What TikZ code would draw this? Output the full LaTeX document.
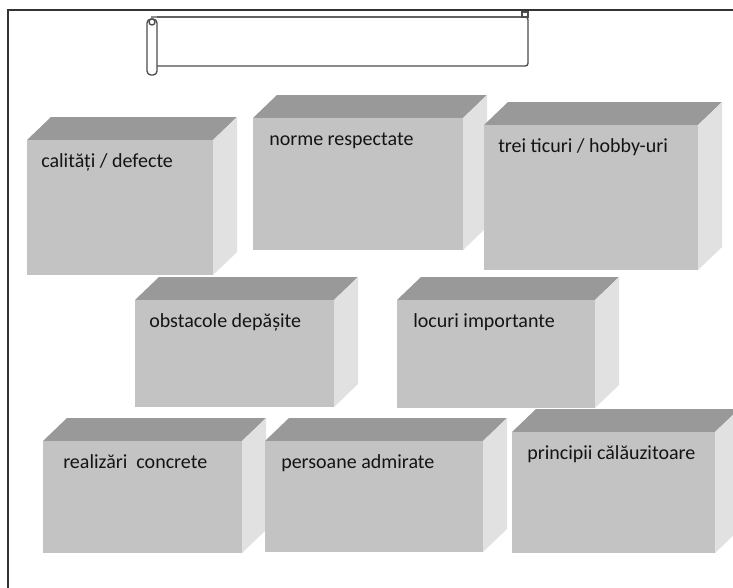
\documentclass[tikz,border=0pt]{standalone}
\usepackage{fontspec}
\setmainfont{Carlito}
\definecolor{frontgray}{HTML}{C3C3C3}
\definecolor{topgray}{HTML}{999999}
\definecolor{sidegray}{HTML}{E1E1E1}

\begin{document}
\begin{tikzpicture}[x=0.75pt, y=-0.75pt,
        front/.style={fill=frontgray},
        topface/.style={fill=topgray},
        sideface/.style={fill=sidegray},
        lbl/.style={anchor=base west, inner sep=0pt, text=black!92,
                    font=\fontsize{15}{18}\selectfont},
        scrollline/.style={draw=black!70, line width=1pt}]
        \clip (0,0) rectangle (733,587);
        \fill[white] (0,0) rectangle (733,587);

        % page frame
        \draw[line width=1.1pt, black!80] (8,600) -- (8,10) -- (745,10);

        % title scroll
        \draw[scrollline, black!45, line width=1.5pt] (151,17) -- (524,17);
        \draw[scrollline, rounded corners=2pt] (157,17) -- (528,17) -- (528,66) -- (157,66);
        \draw[scrollline, fill=white, rounded corners=3pt] (147,19) rectangle (157,75);
        \draw[scrollline] (152,22) circle[radius=3];
        \draw[scrollline] (522,12) rectangle (528,17);

        % blocks
        \foreach \x/\y/\w/\h/\i/\n/\t in {
                27/140/186/135/14/calitati/{calități / defecte},
                253/118/210/132/16/norme/{norme respectate},
                484/125/214/145/14/ticuri/{trei ticuri / hobby-uri},
                135/300/199/107/14/obstacole/{obstacole depășite},
                397/300/198/108/16/locuri/{locuri importante},
                43/441/199/112/20/realizari/{realizări\ \ concrete},
                265/441/218/111/16/persoane/{persoane admirate},
                512/432/203/121/15/principii/{principii călăuzitoare}} {
            \fill[topface] (\x,\y) -- (\x+24,\y-23) -- (\x+\w+24,\y-23) -- (\x+\w,\y) -- cycle;
            \fill[sideface] (\x+\w,\y) -- (\x+\w+24,\y-23) -- (\x+\w+24,\y+\h-23) -- (\x+\w,\y+\h) -- cycle;
            \fill[front] (\x,\y) rectangle (\x+\w,\y+\h);
            \node[lbl] (\n) at (\x+\i,\y+27) {\t};
        }
    \end{tikzpicture}
\end{document}
